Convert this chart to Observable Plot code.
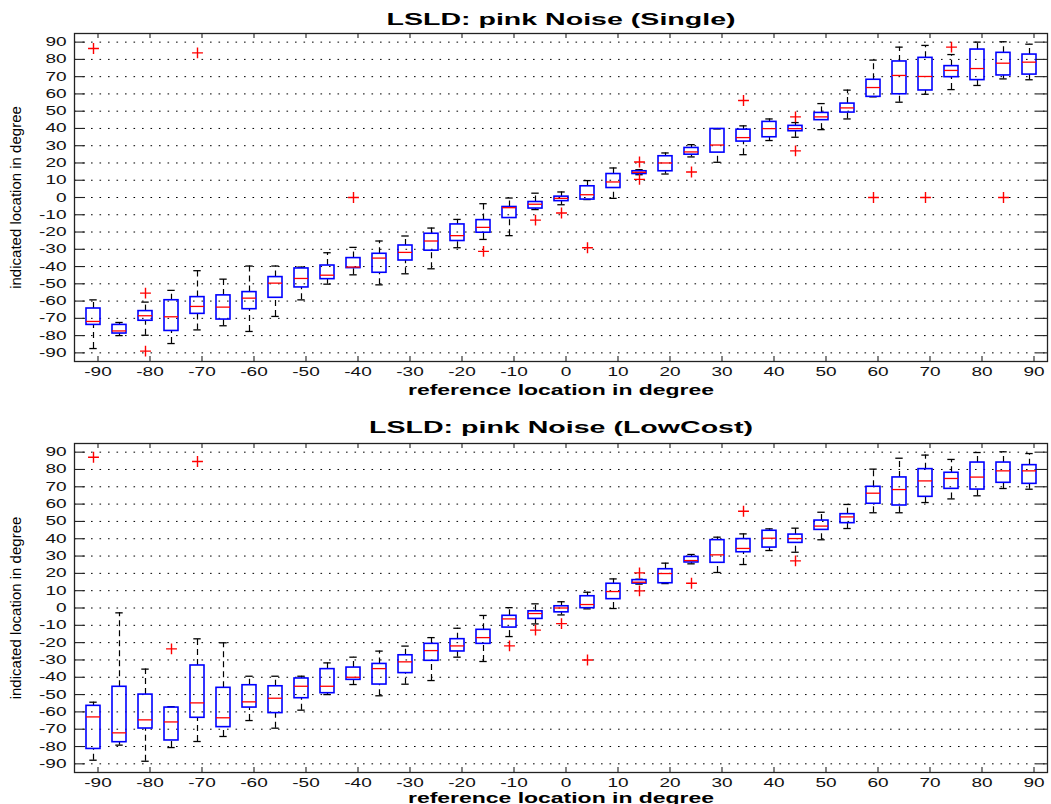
<!DOCTYPE html>
<html>
<head>
<meta charset="utf-8">
<script src="https://cdn.jsdelivr.net/npm/d3@7"></script>
<script src="https://cdn.jsdelivr.net/npm/@observablehq/plot@0.6"></script>
<style>
  html, body { margin: 0; padding: 0; background: #fff; overflow: hidden; }
  #chart svg { display: block; }
</style>
</head>
<body>
<div id="chart"></div>
<script>
// reference locations (categories)
const refs = [-90,-85,-80,-75,-70,-65,-60,-55,-50,-45,-40,-35,-30,-25,-20,-15,-10,-5,0,5,10,15,20,25,30,35,40,45,50,55,60,65,70,75,80,85,90];
const xTicks = [-90,-80,-70,-60,-50,-40,-30,-20,-10,0,10,20,30,40,50,60,70,80,90];
const yTicks = [90,80,70,60,50,40,30,20,10,0,-10,-20,-30,-40,-50,-60,-70,-80,-90];

// Panel 1: Single
const sLow  = [-87.5,-80,-79.8,-84.6,-76.7,-74.3,-77.6,-68.9,-59.3,-50.2,-44.8,-50.6,-44.2,-41.3,-29.1,-24.3,-22.1,-7,-4.2,-1.2,-0.5,13.2,13.6,23.5,20.4,24.8,33,34.9,39.3,45.5,58.3,55.2,59.8,62.5,64.9,68.7,68.2];
const sQ1   = [-73.8,-78.8,-71.4,-77.3,-67.4,-70.7,-64.7,-58.1,-52.1,-47.3,-40.9,-43.6,-36.5,-30.8,-25.2,-20.4,-11.9,-6.4,-2.1,-1.2,5.5,13.6,15.2,24.8,26,32.4,34.9,38.4,44.8,49.2,58.3,59.8,62,69.7,68,70.7,71.2];
const sMed  = [-71.8,-77.3,-68.5,-69.1,-63.1,-63.5,-58.3,-49.6,-46.9,-45,-40.3,-35.1,-31.8,-25.2,-22.1,-17.3,-5.9,-3.9,-0.5,1.6,9,14.6,20,26.4,30.4,34.7,39.9,39.9,46.7,51.9,63.7,70.7,70.1,73.6,74.7,77.8,78.4];
const sQ3   = [-64.3,-73.8,-65.8,-59.5,-57.7,-56.7,-54.8,-46.1,-41.1,-39.4,-35.1,-32.6,-27.8,-21,-15.6,-13.1,-5.5,-2.6,0.5,6.5,13.6,15.2,23.9,28.7,39.7,39.3,43.8,41.5,49,54.4,68.2,78.8,80.9,76.1,85.7,83.8,82.8];
const sHigh = [-59.3,-72.4,-60.6,-53.8,-42.4,-47.3,-39.7,-39.7,-40.3,-32,-28.9,-25.2,-22.3,-17.7,-12.7,-3.6,-0.3,2.5,3.2,9.8,17.1,16.1,25.8,30.6,39.7,41.5,45.5,43.4,54.4,62.2,79.6,87.1,88.1,82.8,90,90.2,88.8];
const sOutRef = [-90,-80,-80,-70,-40,-15,-5,0,5,15,15,25,35,45,45,60,70,75,85];
const sOutVal = [86.3,-55.4,-89,83.8,0,-31.2,-13.1,-9,-29.1,20.6,10.5,14.8,56.2,46.7,27,0,0,87.1,0];

// Panel 2: LowCost
const cLow  = [-87.9,-79.2,-88.5,-80.6,-77.1,-74.2,-65,-69.4,-59,-50,-44.2,-50.7,-44,-41.9,-28.4,-30.9,-16.5,-9.2,-4,-0.5,-0.3,13.8,14.1,25.5,20.5,25.1,33.2,32.2,39.4,45.9,55,55,60.9,63,64.8,69,68.6];
const cQ1   = [-81.4,-77.5,-69.6,-76.5,-63.4,-68.8,-57.5,-60.7,-52.1,-49.2,-41.5,-44.2,-37.6,-30.5,-25.1,-20.7,-11.3,-6.3,-2.5,-0.1,5.1,14.1,14.3,26.3,26.1,32.2,34.9,37.6,45.1,49,60.2,59.2,64.2,68.8,68.4,72.3,71.7];
const cMed  = [-62.9,-72.1,-64.6,-65.8,-54.8,-63.4,-54.2,-52.1,-45.2,-45.2,-40,-35,-31.1,-24.6,-21.9,-17.1,-6.3,-3.2,0,2,9.5,14.9,19.9,27.4,30.7,34.4,40.3,40.1,47.3,52.6,66.3,68.4,73.4,74.8,75.6,79.2,79.2];
const cQ3   = [-56.5,-45.5,-50,-57.5,-33.2,-46.1,-44.6,-45.2,-40.7,-35.3,-34.4,-32.3,-27.3,-20.7,-18,-12.6,-4.5,-1.9,1,6.8,14,16.1,22.4,29.5,39.2,39.8,44.6,42.4,50.5,54.2,70,75.4,80.2,78.1,84,84,82.5];
const cHigh = [-54.4,-2.8,-35.3,-57,-17.8,-20.1,-39.4,-39.4,-39.4,-31.7,-28.4,-24.9,-22,-17.1,-11.7,-4.3,0.2,2.4,3.6,9.1,16.8,16.6,25.9,30.9,40.9,42.8,45.7,46.1,55.3,59.8,80.2,86.5,88.3,85.8,89.8,90.2,89.2];
const cOutRef = [-90,-75,-70,-10,-5,0,5,15,15,25,35,45];
const cOutVal = [87.1,-23.6,84.6,-21.9,-12.8,-9,-30,20.3,9.9,14.3,55.9,27.2];

const titles = ["LSLD: pink Noise (Single)", "LSLD: pink Noise (LowCost)"];
const xLabel = "reference location in degree";
const yLabel = "indicated location in degree";

function panel(cfg) {
  const rows = refs.map((r, i) => ({ref: r, low: cfg.low[i], q1: cfg.q1[i], med: cfg.med[i], q3: cfg.q3[i], high: cfg.high[i]}));
  const outs = cfg.outRef.map((r, i) => ({ref: r, val: cfg.outVal[i]}));
  const width = 1051, mL = 74, mR = 4;
  const W = width - mL - mR;
  const H = cfg.height - cfg.marginTop - cfg.marginBottom;
  return Plot.plot({
    width, height: cfg.height,
    marginLeft: mL, marginRight: mR, marginTop: cfg.marginTop, marginBottom: cfg.marginBottom,
    style: {fontFamily: "'Liberation Sans', Arial, sans-serif", fontSize: "12.5px", color: "#111", background: "#fff"},
    x: {type: "band", domain: refs, paddingInner: 0.47, paddingOuter: 0.235, align: 0.5, label: null},
    y: {domain: [-95, 95], label: null},
    marks: [
      Plot.ruleY(yTicks, {y: d => d, stroke: "#000", strokeWidth: 1, strokeDasharray: "1.6,6.9"}),
      Plot.ruleX(rows, {x: "ref", y1: "low", y2: "q1", stroke: "#000", strokeWidth: 1.2, strokeDasharray: "6,4"}),
      Plot.ruleX(rows, {x: "ref", y1: "q3", y2: "high", stroke: "#000", strokeWidth: 1.2, strokeDasharray: "6,4"}),
      Plot.tickY(rows, {x: "ref", y: "low", stroke: "#000", strokeWidth: 1.3, insetLeft: 3.3, insetRight: 3.3}),
      Plot.tickY(rows, {x: "ref", y: "high", stroke: "#000", strokeWidth: 1.3, insetLeft: 3.3, insetRight: 3.3}),
      Plot.barY(rows, {x: "ref", y1: "q1", y2: "q3", fill: "none", stroke: "#0000ff", strokeWidth: 1.6}),
      Plot.tickY(rows, {x: "ref", y: "med", stroke: "#ff0000", strokeWidth: 1.3}),
      Plot.dot(outs, {x: "ref", y: "val", symbol: "plus", r: 3.6, stroke: "#ff0000", strokeWidth: 1.4}),
      Plot.frame({stroke: "#222", strokeWidth: 1.3}),
      // inward ticks
      Plot.ruleY(yTicks, {y: d => d, insetRight: W - 11, stroke: "#222", strokeWidth: 1.1}),
      Plot.ruleY(yTicks, {y: d => d, insetLeft: W - 11, stroke: "#222", strokeWidth: 1.1}),
      Plot.ruleX(xTicks, {x: d => d, insetTop: H - 5, dx: 4.5, stroke: "#222", strokeWidth: 1.1}),
      Plot.ruleX(xTicks, {x: d => d, insetBottom: H - 5, dx: 4.5, stroke: "#222", strokeWidth: 1.1}),
      Plot.axisX(xTicks, {tickSize: 0, tickPadding: 5.5, dx: 4.5, tickFormat: d => String(d), label: null, fill: "#111"}),
      Plot.axisY(yTicks, {tickSize: 0, tickPadding: 8, tickFormat: d => String(d), label: null, fill: "#111"}),
      Plot.text([cfg.title], {text: d => d, frameAnchor: "top", textAnchor: "middle", lineAnchor: "middle", dy: cfg.titleDy, fontSize: 17, fontWeight: "bold", fill: "#000"}),
      Plot.text([xLabel], {text: d => d, frameAnchor: "bottom", textAnchor: "middle", lineAnchor: "middle", dy: cfg.xLabelDy, fontSize: 15, fontWeight: "bold", fill: "#000"}),
      Plot.text([yLabel], {text: d => d, frameAnchor: "left", textAnchor: "middle", lineAnchor: "middle", rotate: -90, dx: -58, fontSize: 15, fill: "#000"})
    ]
  });
}

// horizontal stretch of the (non-rotated) texts, as in the reference image
function stretchTexts(svg) {
  for (const t of svg.querySelectorAll("text")) {
    const s = t.textContent;
    let sx = null;
    if (titles.includes(s)) sx = 1.68;
    else if (s === xLabel) sx = 1.53;
    else if (/^-?\d+$/.test(s)) sx = 1.52;
    if (sx == null) continue;
    const L = t.getComputedTextLength();
    if (L > 0) {
      t.setAttribute("textLength", (L * sx).toFixed(2));
      t.setAttribute("lengthAdjust", "spacingAndGlyphs");
    }
  }
}

const root = document.getElementById("chart");
const p1 = panel({title: titles[0], low: sLow, q1: sQ1, med: sMed, q3: sQ3, high: sHigh, outRef: sOutRef, outVal: sOutVal,
  height: 400, marginTop: 33, marginBottom: 39, titleDy: -14.4, xLabelDy: 28.7});
const p2 = panel({title: titles[1], low: cLow, q1: cQ1, med: cMed, q3: cQ3, high: cHigh, outRef: cOutRef, outVal: cOutVal,
  height: 404, marginTop: 43, marginBottom: 32, titleDy: -15.7, xLabelDy: 25.7});
root.appendChild(p1);
root.appendChild(p2);
stretchTexts(p1);
stretchTexts(p2);
</script>
</body>
</html>
